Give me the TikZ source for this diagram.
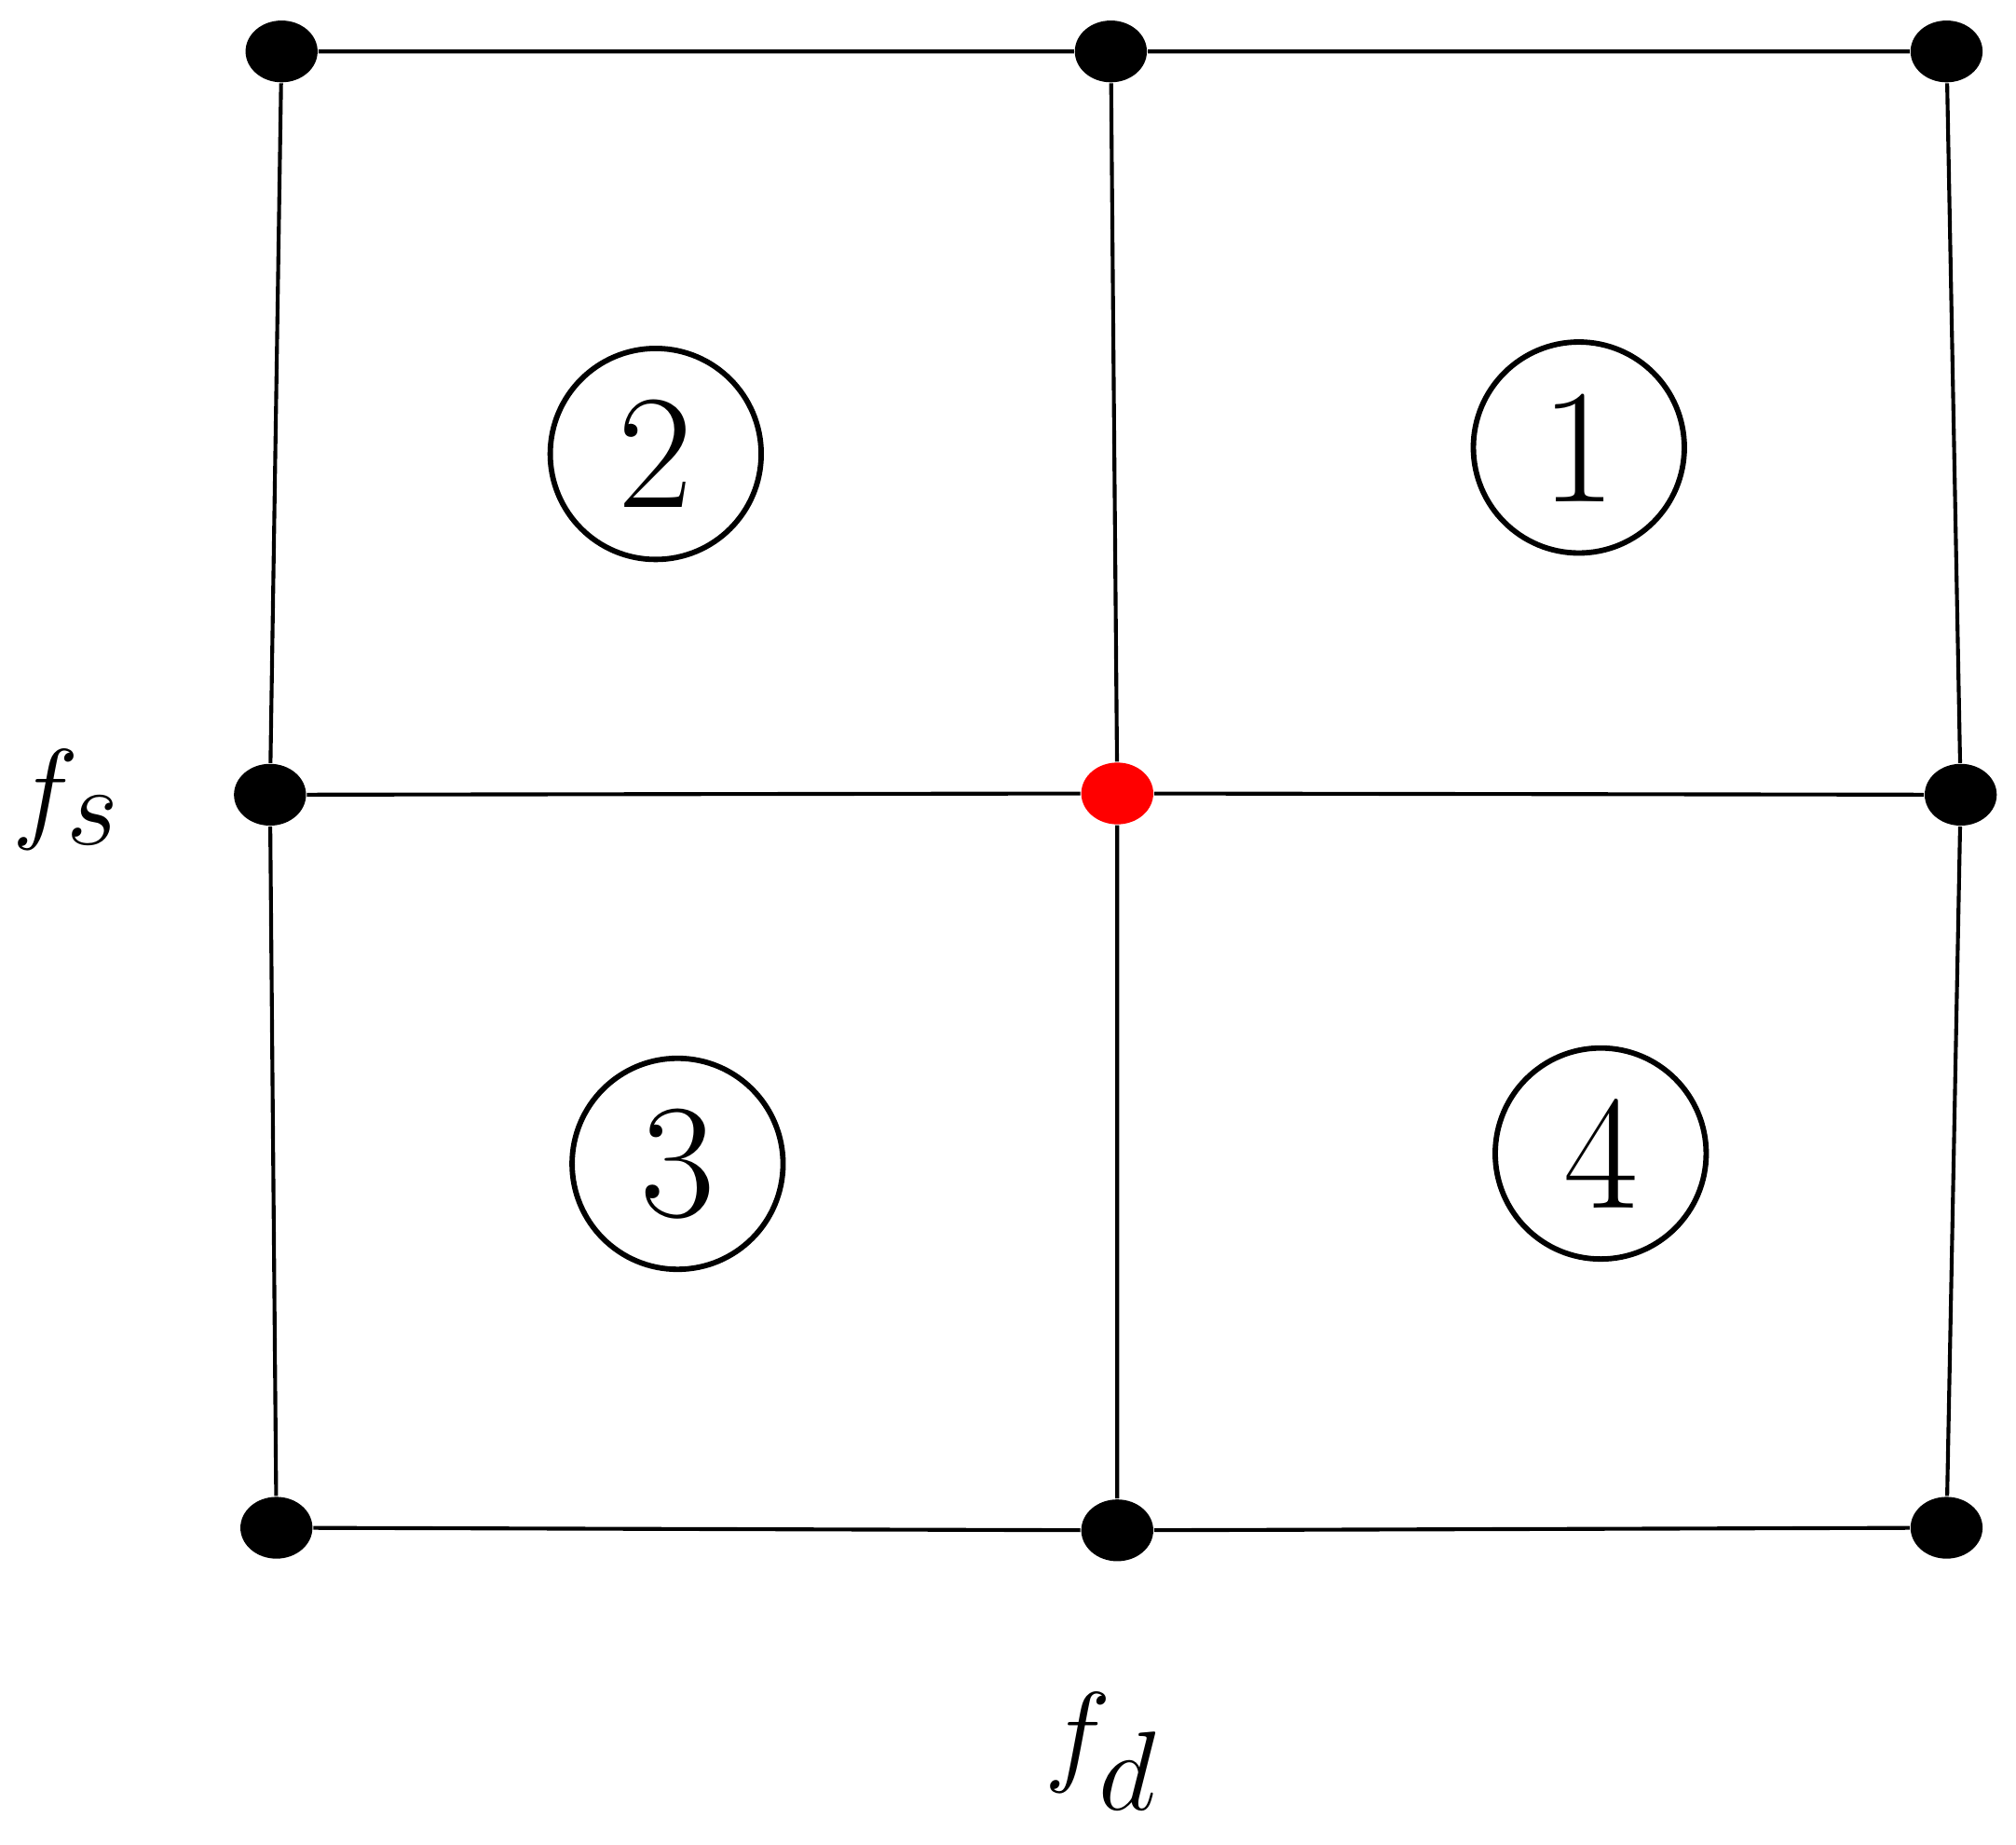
\documentclass[tikz,border=0pt]{standalone}
\usetikzlibrary{shapes.geometric}
\begin{document}
\begin{tikzpicture}[x=0.01cm,y=-0.01cm,
  dot/.style={ellipse,fill=black,minimum width=0.56cm,minimum height=0.48cm,inner sep=0pt},
  rdot/.style={ellipse,fill=red,minimum width=0.56cm,minimum height=0.48cm,inner sep=0pt},
  cnum/.style={circle,draw,line width=1.2pt,minimum size=1.64cm,inner sep=0pt,font=\fontsize{36}{36}\selectfont},
  lab/.style={font=\fontsize{40}{40}\selectfont},
  edge/.style={line width=0.85pt}]
\useasboundingbox (0,0) rectangle (1568,1434);
\node[dot] (a1) at (219,40) {};
\node[dot] (a2) at (864,40) {};
\node[dot] (a3) at (1514,40) {};
\node[dot] (b1) at (210,618) {};
\node[rdot] (b2) at (869,617) {};
\node[dot] (b3) at (1525,618) {};
\node[dot] (c1) at (215,1188) {};
\node[dot] (c2) at (869,1190) {};
\node[dot] (c3) at (1514,1188) {};
\draw[edge] (a1)--(a2) (a2)--(a3) (b1)--(b2) (b2)--(b3) (c1)--(c2) (c2)--(c3);
\draw[edge] (a1)--(b1) (b1)--(c1) (a2)--(b2) (b2)--(c2) (a3)--(b3) (b3)--(c3);
\node[cnum] (n1) at (1228,348) {1};
\node[cnum] (n2) at (510,353) {2};
\node[cnum] (n3) at (527,905) {3};
\node[cnum] (n4) at (1245,897) {4};
\node[lab] (fs) at (52,622) {$f_s$};
\node[lab] (fd) at (857,1362) {$f_d$};
\end{tikzpicture}
\end{document}
